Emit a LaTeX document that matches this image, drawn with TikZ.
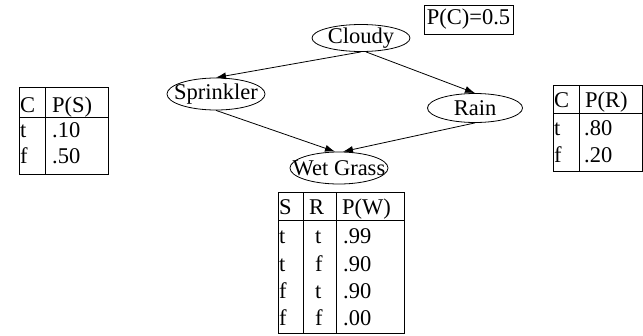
\documentclass[tikz,border=0pt]{standalone}
\usepackage{fontspec}
\setmainfont{Liberation Serif}
\usetikzlibrary{arrows.meta, shapes.geometric, calc, positioning}

\tikzset{
  var/.style={ellipse, draw, line width=0.8pt, inner sep=0pt},
  txt/.style={anchor=base west, inner sep=0pt},
  cpt/.style={line width=0.8pt},
  dep/.style={-{Latex[length=10pt,width=7pt]}, line width=0.8pt}
}

\begin{document}
\begin{tikzpicture}[x=1pt, y=-1pt, font=\fontsize{22.5}{25}\selectfont]
                        \useasboundingbox (0,0) rectangle (643,335);

                        % network
                        \node[var, minimum width=98, minimum height=27, label=center:Cloudy] (cl) at (361, 38) {};
                        \node[var, minimum width=98, minimum height=32, label=center:Sprinkler] (sp) at (216, 94) {};
                        \node[var, minimum width=95, minimum height=29, label=center:Rain] (rn) at (475, 108) {};
                        \node[var, minimum width=98, minimum height=32, label=center:Wet Grass] (wg) at (339, 168) {};
                        \node[draw, cpt, inner sep=1pt, minimum width=89, minimum height=29] (pc) at (468.5, 19.5) {P(C)=0.5};

                        \draw[dep] (cl.south) -- (sp.north);
                        \draw[dep] ($(cl.south)+(5,0)$) -- (rn.north);
                        \draw[dep] (sp.south) -- ($(wg.north)+(-4,0)$);
                        \draw[dep] (rn.south) -- ($(wg.north)+(4,0)$);

                        % P(S|C)
                        \draw[cpt] (19, 87) rectangle (108, 174);
                        \draw[cpt] (45, 87) -- (45, 174);
                        \draw[cpt] (19, 117) -- (108, 117);
                        \node[txt] (sc) at (20, 112) {C};
                        \node[txt] (sp0) at (52, 112) {P(S)};
                        \node[txt] (sc1) at (20, 137) {t};
                        \node[txt] (sp1) at (52, 137) {.10};
                        \node[txt] (sc2) at (20, 163) {f};
                        \node[txt] (sp2) at (52, 163) {.50};

                        % P(R|C)
                        \draw[cpt] (553, 85) rectangle (642, 171);
                        \draw[cpt] (579, 85) -- (579, 171);
                        \draw[cpt] (553, 113) -- (642, 113);
                        \node[txt] (rc) at (554, 107) {C};
                        \node[txt] (rp0) at (585, 107) {P(R)};
                        \node[txt] (rc1) at (554, 135) {t};
                        \node[txt] (rp1) at (584, 135) {.80};
                        \node[txt] (rc2) at (554, 162) {f};
                        \node[txt] (rp2) at (584, 162) {.20};

                        % P(W|S,R)
                        \draw[cpt] (278, 192) rectangle (404, 333);
                        \draw[cpt] (303, 192) -- (303, 333);
                        \draw[cpt] (336, 192) -- (336, 333);
                        \draw[cpt] (278, 220) -- (404, 220);
                        \node[txt] (ws) at (279, 214) {S};
                        \node[txt] (wr) at (309, 214) {R};
                        \node[txt] (wp) at (342, 214) {P(W)};
                        \node[txt] (ws1) at (279, 243) {t};
                        \node[txt] (wr1) at (315, 243) {t};
                        \node[txt] (wp1) at (343, 243) {.99};
                        \node[txt] (ws2) at (279, 271) {t};
                        \node[txt] (wr2) at (315, 271) {f};
                        \node[txt] (wp2) at (343, 271) {.90};
                        \node[txt] (ws3) at (279, 298) {f};
                        \node[txt] (wr3) at (315, 298) {t};
                        \node[txt] (wp3) at (343, 298) {.90};
                        \node[txt] (ws4) at (279, 325) {f};
                        \node[txt] (wr4) at (315, 325) {f};
                        \node[txt] (wp4) at (343, 325) {.00};
                    \end{tikzpicture}
\end{document}
